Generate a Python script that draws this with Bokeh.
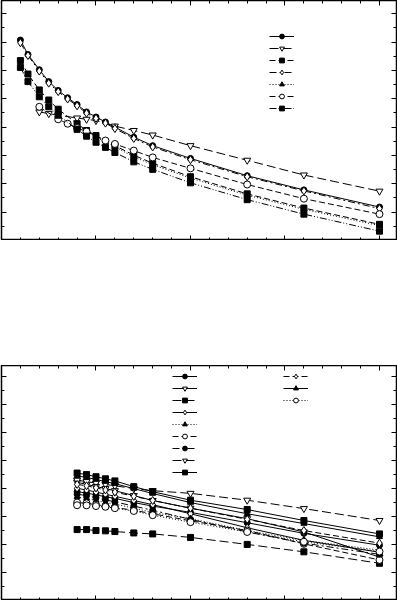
from bokeh.plotting import figure
from bokeh.layouts import column
from bokeh.models import (LinearAxis, FixedTicker, CustomJSTickFormatter, Range1d,
                          Legend, LegendItem)
from bokeh.core.properties import value
from bokeh.embed import file_html
from bokeh.resources import INLINE

# ---------------- data: top panel ----------------
top_x_a = [1, 1.4, 2, 2.5, 3, 3.5, 4, 4.5, 5, 5.5, 6, 7, 8, 10, 13, 16, 20]
top_a = [14.14, 13.12, 12.05, 11.21, 10.59, 10.07, 9.59, 9.07, 8.71, 8.36, 8.0, 7.29, 6.69, 5.79, 4.57, 3.57, 2.36]
top_d = [13.95, 13.05, 11.95, 11.10, 10.50, 9.98, 9.50, 8.98, 8.62, 8.28, 7.90, 7.20, 6.60, 5.70, 4.50, 3.50, 2.25]

top_x_b = [2, 2.5, 3, 4, 4.5, 5, 6, 7, 8, 10, 13, 16, 20]
top_b = [9.07, 8.95, 8.84, 8.64, 8.55, 8.46, 8.07, 7.76, 7.44, 6.69, 5.66, 4.62, 3.48]

top_x_f = [2, 3, 3.5, 4, 4.5, 5.5, 6, 7, 8, 10, 13, 16, 20]
top_f = [9.43, 8.55, 8.24, 7.93, 7.69, 7.05, 6.81, 6.34, 5.86, 5.09, 3.95, 2.95, 1.86]

top_x_c = [1, 1.4, 2, 2.5, 3, 4, 4.5, 5, 6, 7, 8, 10, 13, 16, 20]
top_c = [12.69, 11.74, 10.62, 9.91, 9.26, 8.24, 7.76, 7.40, 6.69, 6.02, 5.45, 4.50, 3.29, 2.29, 1.14]

top_x_e = [4, 5, 6, 7, 8, 10, 13, 16, 20]
top_e = [8.15, 7.30, 6.60, 5.90, 5.35, 4.40, 3.20, 2.20, 1.05]

top_x_g = [1, 1.4, 2, 2.5, 3, 4, 4.5, 5, 5.5, 6, 7, 8, 10, 13, 16, 20]
top_g = [12.21, 11.21, 10.14, 9.43, 8.84, 7.84, 7.36, 6.93, 6.57, 6.21, 5.55, 5.02, 4.07, 2.88, 1.86, 0.66]

# ---------------- data: bottom panel ----------------
bot_x = [4, 4.5, 5, 5.5, 6, 7, 8, 10, 13, 16, 20]
bot_1 = [7.78, 7.68, 7.55, 7.42, 7.30, 7.00, 6.75, 6.30, 5.56, 4.80, 3.95]
bot_2 = [8.45, 8.30, 8.15, 8.00, 7.85, 7.50, 7.15, 6.60, 5.85, 4.90, 3.10]
bot_3 = [5.07, 5.07, 5.00, 4.98, 4.93, 4.83, 4.76, 4.51, 4.01, 3.48, 2.66]
bot_4 = [8.02, 7.90, 7.75, 7.60, 7.45, 7.15, 6.85, 6.20, 5.20, 4.30, 3.45]
bot_5 = [7.41, 7.30, 7.15, 7.00, 6.90, 6.60, 6.30, 5.85, 5.00, 4.30, 3.60]
bot_6 = [7.00, 6.95, 6.85, 6.75, 6.65, 6.45, 6.20, 5.70, 5.00, 4.05, 2.90]
bot_7 = [7.60, 7.50, 7.35, 7.20, 7.05, 6.75, 6.45, 5.80, 4.90, 4.10, 3.30]
bot_8 = [8.60, 8.50, 8.40, 8.30, 8.20, 8.00, 7.85, 7.66, 7.17, 6.57, 5.72]
bot_9 = [9.11, 9.00, 8.85, 8.70, 8.55, 8.14, 7.78, 7.17, 6.50, 5.72, 4.76]
bot_10 = [8.30, 8.20, 8.05, 7.90, 7.75, 7.45, 7.15, 6.60, 5.80, 5.00, 4.10]
bot_11 = [8.90, 8.80, 8.65, 8.50, 8.35, 8.00, 7.65, 7.00, 6.20, 5.50, 4.55]
bot_12 = [6.81, 6.80, 6.75, 6.70, 6.60, 6.40, 6.10, 5.60, 4.90, 4.20, 3.50]

x_major = [0, 5, 10, 15, 20]
x_minor = list(range(0, 21))
y_major = [0, 2, 4, 6, 8, 10, 12, 14, 16]
y_minor = list(range(0, 17))

SOLID = "solid"
LDASH = "9 4"
DASH = "6 3"
DASHDOT = "7 3 2 3"
DOT = "1 2"
DASHDOTDOT = "7 2 1 2 1 2"

blank = CustomJSTickFormatter(code="return ''")


def style_axis(ax):
    ax.ticker = FixedTicker(ticks=x_major, minor_ticks=x_minor)
    ax.formatter = blank
    ax.major_label_text_font_size = "0px"
    ax.major_label_standoff = 0
    ax.axis_line_color = None
    ax.major_tick_in = 5
    ax.major_tick_out = 0
    ax.minor_tick_in = 3
    ax.minor_tick_out = 0
    ax.major_tick_line_color = "black"
    ax.minor_tick_line_color = "black"
    ax.major_tick_line_width = 1
    ax.minor_tick_line_width = 1


def make_fig(height, ymax):
    p = figure(width=397, height=height, output_backend="svg", toolbar_location=None,
               x_range=Range1d(0, 20.9), y_range=Range1d(0, ymax),
               min_border=0, min_border_left=1, min_border_right=1,
               background_fill_color="white", border_fill_color="white")
    p.outline_line_color = "black"
    p.outline_line_width = 1.5
    p.xgrid.visible = False
    p.ygrid.visible = False
    top = LinearAxis()
    right = LinearAxis()
    p.add_layout(top, "above")
    p.add_layout(right, "right")
    for ax in p.xaxis:
        style_axis(ax)
    for ax in p.yaxis:
        style_axis(ax)
        ax.ticker = FixedTicker(ticks=y_major, minor_ticks=y_minor)
    return p


def series(p, xs, ys, marker, dash, filled, size=6):
    r1 = p.line(xs, ys, line_color="black", line_width=1, line_dash=dash)
    r2 = p.scatter(xs, ys, marker=marker, size=size, line_color="black", line_width=1,
                   fill_color="black" if filled else "white")
    return [r1, r2]


def legend(p, items, loc):
    lg = Legend(items=[LegendItem(label=value(""), renderers=r) for r in items],
                location=loc, padding=0, margin=0, spacing=0,
                glyph_width=25, glyph_height=12, label_width=0, label_height=12,
                label_standoff=0, label_text_font_size="1px",
                border_line_color=None, background_fill_alpha=0)
    p.add_layout(lg, "center")


# ---------------- top figure ----------------
p1 = make_fig(240, 16.93)
t_items = [
    series(p1, top_x_a, top_a, "circle", SOLID, True, 6),
    series(p1, top_x_b, top_b, "inverted_triangle", LDASH, False, 7),
    series(p1, top_x_c, top_c, "square", DASH, True, 6),
    series(p1, top_x_a, top_d, "diamond", DASHDOT, False, 8),
    series(p1, top_x_e, top_e, "triangle", DOT, True, 6),
    series(p1, top_x_f, top_f, "circle", DASH, False, 7),
    series(p1, top_x_g, top_g, "square", DASHDOTDOT, True, 6),
]
legend(p1, t_items, (268, 126))

# ---------------- bottom figure ----------------
p2 = make_fig(235, 16.8)
b_specs = [
    (bot_1, "circle", SOLID, True, 6),
    (bot_2, "inverted_triangle", SOLID, False, 7),
    (bot_3, "square", LDASH, True, 6),
    (bot_4, "diamond", SOLID, False, 8),
    (bot_5, "triangle", DOT, True, 6),
    (bot_6, "circle", DASH, False, 7),
    (bot_7, "circle", DASHDOT, True, 6),
    (bot_8, "inverted_triangle", LDASH, False, 7),
    (bot_9, "square", SOLID, True, 6),
    (bot_10, "diamond", DASH, False, 8),
    (bot_11, "triangle", SOLID, True, 6),
    (bot_12, "circle", DOT, False, 7),
]
b_items = [series(p2, bot_x, ys, m, d, f, s) for ys, m, d, f, s in b_specs]
legend(p2, b_items[:9], (171, 122))
legend(p2, b_items[9:], (282, 194))

layout = column(p1, p2, spacing=125)
open("out.html", "w").write(file_html(layout, INLINE))
